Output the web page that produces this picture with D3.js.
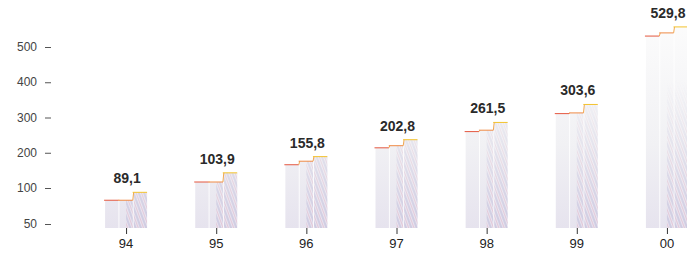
<!DOCTYPE html>
<html>
<head>
<meta charset="utf-8">
<script src="https://cdn.jsdelivr.net/npm/d3@7/dist/d3.min.js"></script>
<style>
  body { margin: 0; background: #fff; }
  svg { display: block; font-family: "Liberation Sans", Arial, sans-serif; }
</style>
</head>
<body>
<svg id="chart" width="687" height="253"></svg>
<script>
// years on the x axis, total shown above each group
var years = ["94", "95", "96", "97", "98", "99", "00"];
var totals = [89.1, 103.9, 155.8, 202.8, 261.5, 303.6, 529.8];
var totalLabels = ["89,1", "103,9", "155,8", "202,8", "261,5", "303,6", "529,8"];
// three stepped columns per year
var colA = [83, 117, 166, 214, 260, 311, 531];
var colB = [83, 117, 176, 220, 264, 313, 540];
var colC = [94, 143, 189, 237, 286, 337, 557];
var yTicks = [50, 100, 200, 300, 400, 500];

var svg = d3.select("#chart");
var baseY = 228;

var x = d3.scalePoint()
    .domain(years)
    .range([81, 712])
    .padding(0.5);

// the axis is broken below 100
var y = d3.scaleLinear()
    .domain([50, 100, 500])
    .range([224, 188, 47]);

var sub = d3.scaleBand()
    .domain([0, 1, 2])
    .range([-21, 21])
    .paddingInner(0.06);

var defs = svg.append("defs");
var grad = defs.append("linearGradient")
    .attr("id", "fade")
    .attr("gradientUnits", "userSpaceOnUse")
    .attr("x1", 0).attr("x2", 0).attr("y1", 20).attr("y2", baseY);
grad.append("stop").attr("offset", "0%").attr("stop-color", "#fcfcfc");
grad.append("stop").attr("offset", "60%").attr("stop-color", "#f1f1f4");
grad.append("stop").attr("offset", "100%").attr("stop-color", "#e6e3ee");

var hatch = defs.append("pattern")
    .attr("id", "hatch")
    .attr("patternUnits", "userSpaceOnUse")
    .attr("width", 5).attr("height", 9)
    .attr("patternTransform", "rotate(-20)");
hatch.append("line")
    .attr("x1", 1).attr("x2", 1).attr("y1", 0).attr("y2", 9)
    .attr("stroke", "#b9b4d6").attr("stroke-width", 1);
hatch.append("line")
    .attr("x1", 3.5).attr("x2", 3.5).attr("y1", 0).attr("y2", 9)
    .attr("stroke", "#e2bfd2").attr("stroke-width", 0.8);

var maskGrad = defs.append("linearGradient")
    .attr("id", "maskFade")
    .attr("gradientUnits", "userSpaceOnUse")
    .attr("x1", 0).attr("x2", 0).attr("y1", 80).attr("y2", baseY);
maskGrad.append("stop").attr("offset", "0%").attr("stop-color", "#000");
maskGrad.append("stop").attr("offset", "100%").attr("stop-color", "#fff");
defs.append("mask").attr("id", "hatchMask")
    .append("rect")
    .attr("x", 0).attr("y", 0).attr("width", 687).attr("height", 253)
    .attr("fill", "url(#maskFade)");

// y axis: labels with a dash to the right, no line
var yAxis = svg.append("g");
yAxis.selectAll("text")
    .data(yTicks)
    .enter().append("text")
    .attr("x", 37)
    .attr("y", function (d) { return y(d); })
    .attr("dy", "0.35em")
    .attr("text-anchor", "end")
    .attr("fill", "#444")
    .style("font-size", "12px")
    .text(function (d) { return d; });
yAxis.selectAll("line")
    .data(yTicks)
    .enter().append("line")
    .attr("x1", 45).attr("x2", 51)
    .attr("y1", function (d) { return y(d) + 0.5; })
    .attr("y2", function (d) { return y(d) + 0.5; })
    .attr("stroke", "#555").attr("stroke-width", 1);

var groups = svg.selectAll(".year")
    .data(years)
    .enter().append("g")
    .attr("class", "year")
    .attr("transform", function (d) { return "translate(" + x(d) + ",0)"; });

groups.each(function (d, i) {
    var g = d3.select(this);
    var vals = [colA[i], colB[i], colC[i]];
    vals.forEach(function (v, j) {
        g.append("rect")
            .attr("x", sub(j))
            .attr("y", y(v))
            .attr("width", sub.bandwidth())
            .attr("height", baseY - y(v))
            .attr("fill", "url(#fade)");
        g.append("rect")
            .attr("x", sub(j))
            .attr("y", y(v))
            .attr("width", sub.bandwidth())
            .attr("height", baseY - y(v))
            .attr("fill", "url(#hatch)")
            .attr("mask", "url(#hatchMask)");
    });
    // stepped coloured top edge
    var colors = ["#e4573f", "#ef8a45", "#f3c22c"];
    vals.forEach(function (v, j) {
        g.append("line")
            .attr("x1", sub(j) - 1)
            .attr("x2", sub(j) + sub.bandwidth())
            .attr("y1", y(v)).attr("y2", y(v))
            .attr("stroke", colors[j]).attr("stroke-width", 1);
        if (j < 2) {
            g.append("line")
                .attr("x1", sub(j) + sub.bandwidth())
                .attr("x2", sub(j + 1))
                .attr("y1", y(v)).attr("y2", y(vals[j + 1]))
                .attr("stroke", "#f0a850").attr("stroke-width", 1);
        }
    });
    g.append("text")
        .attr("x", 1)
        .attr("y", y(d3.max(vals)) - 9)
        .attr("text-anchor", "middle")
        .attr("fill", "#2a2a2a")
        .style("font-size", "14px")
        .style("font-weight", "bold")
        .text(totalLabels[i]);
    g.append("line")
        .attr("x1", 0.5).attr("x2", 0.5)
        .attr("y1", baseY).attr("y2", baseY + 6)
        .attr("stroke", "#333").attr("stroke-width", 1);
    g.append("text")
        .attr("x", 0)
        .attr("y", baseY + 20)
        .attr("text-anchor", "middle")
        .attr("fill", "#222")
        .style("font-size", "13px")
        .text(d);
});
</script>
</body>
</html>
